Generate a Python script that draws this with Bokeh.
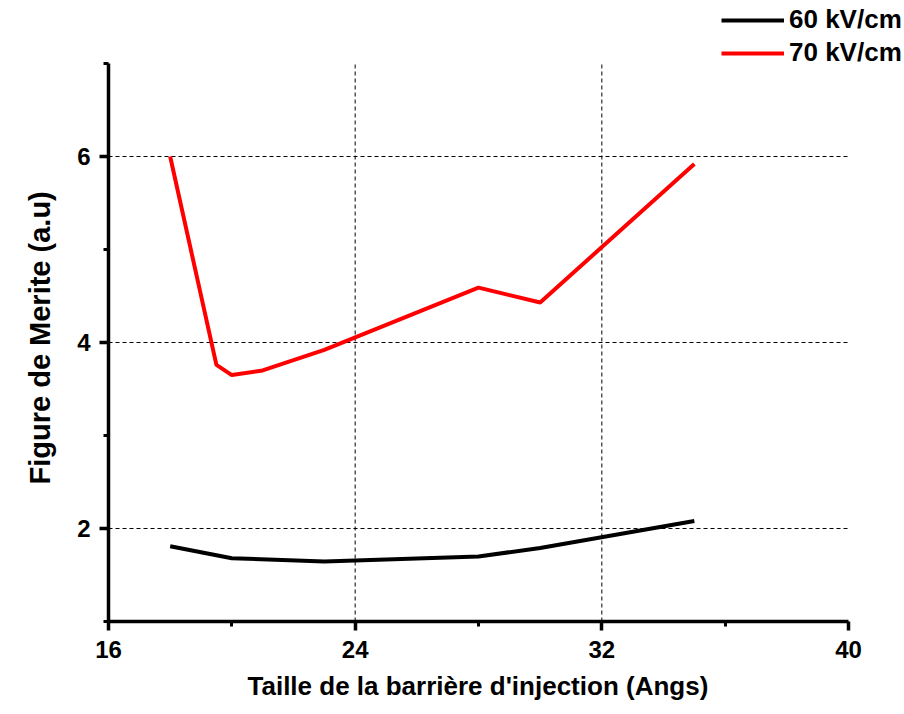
from bokeh.plotting import figure
from bokeh.models import Range1d, FixedTicker, Legend, LegendItem, Title
from bokeh.embed import file_html
from bokeh.resources import INLINE

x_vals = [18, 19.5, 20, 21, 23, 28, 30, 35]
red_70 = [6.00, 3.76, 3.65, 3.70, 3.92, 4.59, 4.43, 5.92]
x_black = [18, 20, 23, 28, 30, 35]
black_60 = [1.81, 1.68, 1.645, 1.70, 1.79, 2.08]
x_major = [16, 24, 32, 40]
x_minor = [20, 28, 36]
y_major = [2, 4, 6]
y_minor = [1, 3, 5, 7]
x_min, x_max = 16, 40
y_min, y_max = 1, 7
x_title = "Taille de la barrière d'injection (Angs)"
y_title = "Figure de Merite (a.u)"

FONT = "Liberation Sans"

# frame extends to the top/right edge so the legend (drawn above the axes area) is visible;
# axes are bounded to the data limits
W, H = 904, 714
left, bottom = 108, 93
axis_px_w, axis_px_h = 740, 558
x_end = x_min + (x_max - x_min) * (W - left) / axis_px_w
y_end = y_min + (y_max - y_min) * (H - bottom) / axis_px_h

p = figure(width=W, height=H, output_backend="svg", toolbar_location=None,
           x_range=Range1d(x_min, x_end), y_range=Range1d(y_min, y_end),
           min_border_left=left, min_border_right=0, min_border_top=0, min_border_bottom=bottom)
p.outline_line_color = None
p.background_fill_color = "white"
p.border_fill_color = "white"
p.xgrid.visible = False
p.ygrid.visible = False

# dashed grid lines at inner major ticks
gx = [t for t in x_major if x_min < t < x_max]
p.segment(x0=gx, y0=[y_min] * len(gx), x1=gx, y1=[y_max] * len(gx),
          line_color="black", line_width=1, line_dash="4 3")
p.segment(x0=[x_min] * len(y_major), y0=y_major, x1=[x_max] * len(y_major), y1=y_major,
          line_color="black", line_width=1, line_dash="4 3")

r1 = p.line(x_black, black_60, line_color="black", line_width=4)
r2 = p.line(x_vals, red_70, line_color="#ff0000", line_width=4)

for ax in (p.xaxis[0], p.yaxis[0]):
    ax.axis_line_width = 3.5
    ax.major_tick_line_width = 3.5
    ax.minor_tick_line_width = 3
    ax.major_tick_out = 9
    ax.major_tick_in = 0
    ax.minor_tick_out = 5
    ax.minor_tick_in = 0
    ax.major_label_text_font = FONT
    ax.major_label_text_font_style = "bold"
    ax.major_label_text_font_size = "24px"
    ax.major_label_text_color = "black"

p.xaxis[0].bounds = (x_min, x_max)
p.yaxis[0].bounds = (y_min, y_max)
p.xaxis[0].ticker = FixedTicker(ticks=x_major, minor_ticks=x_minor)
p.yaxis[0].ticker = FixedTicker(ticks=y_major, minor_ticks=y_minor)
p.xaxis[0].major_label_standoff = 10
p.yaxis[0].major_label_standoff = 9

tx = Title(text=x_title, align="left", offset=139, standoff=17, text_font=FONT,
           text_font_style="bold", text_font_size="26px", text_color="black")
ty = Title(text=y_title, align="left", offset=137, standoff=37, text_font=FONT,
           text_font_style="bold", text_font_size="29px", text_color="black")
p.add_layout(tx, "below")
p.add_layout(ty, "left")

legend = Legend(items=[LegendItem(label="60 kV/cm", renderers=[r1]),
                       LegendItem(label="70 kV/cm", renderers=[r2])],
                location=(613, 553), padding=0, margin=0, spacing=2,
                glyph_width=63, glyph_height=20, label_height=20, label_standoff=5,
                label_text_font=FONT, label_text_font_style="bold",
                label_text_font_size="26px", label_text_color="black",
                border_line_color=None, background_fill_alpha=0)
p.add_layout(legend, "center")

open("out.html", "w").write(file_html(p, INLINE))
